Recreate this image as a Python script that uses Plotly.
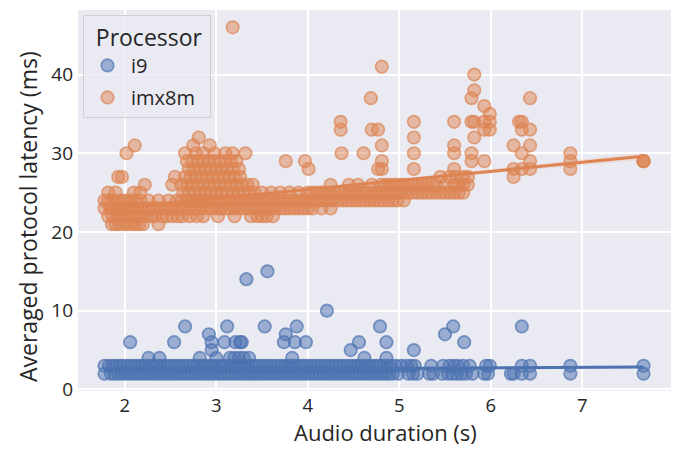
import numpy as np
import plotly.graph_objects as go

# ---------------- data ----------------
# i9: audio durations (s) for each observed averaged latency (ms)
i9_levels = [2, 3, 4, 5, 6, 7, 8, 10, 14, 15]
i9_dur_2 = [1.78, 1.85, 1.89, 1.93, 1.97, 2.01, 2.05, 2.09, 2.13, 2.17, 2.21, 2.25, 2.29, 2.33,
            2.37, 2.41, 2.45, 2.49, 2.53, 2.57, 2.61, 2.65, 2.69, 2.73, 2.77, 2.81, 2.85, 2.89,
            2.93, 2.97, 3.01, 3.05, 3.09, 3.13, 3.17, 3.21, 3.25, 3.29, 3.33, 3.37, 3.41, 3.45,
            3.49, 3.53, 3.57, 3.61, 3.65, 3.69, 3.73, 3.77, 3.81, 3.85, 3.89, 3.93, 3.97, 4.01,
            4.05, 4.09, 4.13, 4.17, 4.21, 4.25, 4.29, 4.33, 4.37, 4.41, 4.45, 4.49, 4.53, 4.57,
            4.61, 4.65, 4.69, 4.73, 4.77, 4.81, 4.85, 4.89, 4.93, 4.99, 5.1, 5.15, 5.2, 5.33,
            5.37, 5.47, 5.53, 5.58, 5.63, 5.68, 5.73, 5.8, 5.93, 5.97, 6.22, 6.25, 6.34, 6.43,
            6.87, 7.67]
i9_dur_3 = [1.78, 1.83, 1.87, 1.91, 1.95, 1.99, 2.03, 2.07, 2.11, 2.15, 2.19, 2.23, 2.27, 2.31,
            2.35, 2.39, 2.43, 2.47, 2.51, 2.55, 2.59, 2.63, 2.67, 2.71, 2.75, 2.79, 2.83, 2.87,
            2.91, 2.95, 2.99, 3.03, 3.07, 3.11, 3.15, 3.19, 3.23, 3.27, 3.31, 3.35, 3.39, 3.43,
            3.47, 3.51, 3.55, 3.59, 3.63, 3.67, 3.71, 3.75, 3.79, 3.83, 3.87, 3.91, 3.95, 3.99,
            4.03, 4.07, 4.11, 4.15, 4.19, 4.23, 4.27, 4.31, 4.35, 4.39, 4.43, 4.47, 4.51, 4.55,
            4.59, 4.63, 4.67, 4.71, 4.75, 4.79, 4.83, 4.87, 4.91, 4.96, 5.02, 5.08, 5.13, 5.17,
            5.35, 5.48, 5.55, 5.6, 5.64, 5.7, 5.77, 5.95, 5.99, 6.34, 6.43, 6.87, 7.67]
i9_dur_4 = [2.26, 2.38, 2.82, 3.0, 3.15, 3.2, 3.25, 3.3, 3.36, 3.83, 4.62, 4.86]
i9_dur_5 = [2.95, 4.47, 5.16]
i9_dur_6 = [2.06, 2.54, 2.95, 3.09, 3.21, 3.26, 3.28, 3.74, 3.86, 3.98, 4.56, 4.86, 5.71]
i9_dur_7 = [2.92, 3.76, 5.5]
i9_dur_8 = [2.66, 3.12, 3.53, 3.88, 4.79, 5.59, 6.34]
i9_dur_10 = [4.21]
i9_dur_14 = [3.33]
i9_dur_15 = [3.56]

# imx8m: audio durations (s) for each observed averaged latency (ms)
imx_levels = [21, 22, 23, 24, 25, 26, 27, 28, 29, 30, 31, 32, 33, 34, 35, 36, 37, 38, 40, 41, 46]
imx_dur_21 = [1.86, 1.9, 1.94, 1.99, 2.03, 2.08, 2.12, 2.16, 2.2, 2.37]
imx_dur_22 = [1.82, 1.87, 1.92, 1.97, 2.01, 2.06, 2.11, 2.15, 2.19, 2.24, 2.29, 2.33, 2.41, 2.46,
              2.52, 2.58, 2.63, 2.71, 2.79, 2.86, 3.02, 3.2, 3.38, 3.45, 3.5, 3.55, 3.62]
imx_dur_23 = [1.78, 1.84, 1.9, 1.95, 2.0, 2.04, 2.09, 2.13, 2.18, 2.23, 2.27, 2.32, 2.36, 2.4,
              2.45, 2.5, 2.55, 2.6, 2.65, 2.7, 2.75, 2.8, 2.85, 2.9, 2.95, 3.0, 3.05, 3.1, 3.15,
              3.2, 3.25, 3.3, 3.35, 3.4, 3.45, 3.5, 3.55, 3.6, 3.65, 3.7, 3.75, 3.8, 3.85, 3.9,
              3.95, 4.0, 4.05, 4.15, 4.25]
imx_dur_24 = [1.78, 1.82, 1.88, 1.93, 1.98, 2.02, 2.07, 2.12, 2.17, 2.26, 2.37, 2.48, 2.57, 2.62,
              2.68, 2.73, 2.78, 2.83, 2.88, 2.93, 2.98, 3.03, 3.08, 3.13, 3.18, 3.23, 3.28, 3.33,
              3.38, 3.43, 3.48, 3.53, 3.58, 3.63, 3.68, 3.73, 3.78, 3.83, 3.88, 3.93, 3.98, 4.03,
              4.08, 4.13, 4.18, 4.23, 4.28, 4.33, 4.38, 4.43, 4.48, 4.53, 4.58, 4.63, 4.68, 4.73,
              4.78, 4.83, 4.88, 4.93, 4.98, 5.05]
imx_dur_25 = [1.82, 1.9, 2.1, 2.17, 2.64, 2.7, 2.76, 2.82, 2.88, 2.94, 3.0, 3.06, 3.12, 3.18,
              3.24, 3.3, 3.36, 3.42, 3.5, 3.6, 3.7, 3.8, 3.9, 4.0, 4.05, 4.1, 4.15, 4.2, 4.25,
              4.3, 4.35, 4.4, 4.45, 4.5, 4.55, 4.6, 4.65, 4.7, 4.75, 4.8, 4.85, 4.9, 4.95, 5.0,
              5.05, 5.1, 5.15, 5.2, 5.25, 5.3, 5.35, 5.4, 5.45, 5.5, 5.55, 5.6, 5.65, 5.7]
imx_dur_26 = [2.22, 2.52, 2.62, 2.68, 2.74, 2.8, 2.86, 2.92, 2.98, 3.04, 3.1, 3.16, 3.22, 3.28,
              3.34, 3.4, 4.25, 4.45, 4.55, 4.7, 4.8, 4.85, 4.9, 4.95, 5.0, 5.05, 5.1, 5.15, 5.2,
              5.25, 5.3, 5.35, 5.4, 5.5, 5.6, 5.65, 5.7, 5.75]
imx_dur_27 = [1.93, 1.97, 2.55, 2.66, 2.72, 2.78, 2.84, 2.9, 2.96, 3.02, 3.08, 3.14, 3.2, 3.26,
              5.45, 5.55, 5.62, 5.7, 5.75, 6.25]
imx_dur_28 = [2.7, 2.76, 2.82, 2.88, 2.94, 3.0, 3.06, 3.12, 3.18, 3.25, 4.01, 4.77, 4.81, 5.16,
              5.6, 6.25, 6.34, 6.43, 6.87]
imx_dur_29 = [2.68, 2.74, 2.8, 2.86, 2.92, 2.98, 3.04, 3.1, 3.16, 3.22, 3.76, 3.97, 4.81, 5.79,
              5.93, 6.43, 6.87, 7.67, 7.67, 7.67]
imx_dur_30 = [2.02, 2.66, 2.78, 2.86, 2.98, 3.1, 3.18, 3.32, 4.37, 4.61, 5.16, 5.6, 5.79, 6.34, 6.87]
imx_dur_31 = [2.11, 2.75, 2.93, 4.81, 5.6, 6.25, 6.43]
imx_dur_32 = [2.81, 5.16, 5.82]
imx_dur_33 = [4.36, 4.7, 4.77, 5.93, 5.99, 6.34, 6.43]
imx_dur_34 = [4.36, 5.16, 5.6, 5.79, 5.82, 5.93, 5.99, 6.31, 6.34]
imx_dur_35 = [5.99]
imx_dur_36 = [5.93]
imx_dur_37 = [4.69, 5.79, 6.43]
imx_dur_38 = [5.82]
imx_dur_40 = [5.82]
imx_dur_41 = [4.81]
imx_dur_46 = [3.18]

# regression lines (linear fit) and 95% CI half-widths
fit_x = [1.78, 7.67]
i9_fit = [2.45, 2.85]
imx_fit = [22.85, 29.63]
ci_x = [1.78, 3.0, 4.5, 6.0, 7.67]
i9_ci_half = [0.12, 0.06, 0.05, 0.08, 0.15]
imx_ci_half = [0.35, 0.2, 0.15, 0.25, 0.45]

series_names = ["i9", "imx8m"]
colors = ["#4C72B0", "#DD8452"]
xticks = [2, 3, 4, 5, 6, 7]
yticks = [0, 10, 20, 30, 40]
x_label = "Audio duration (s)"
y_label = "Averaged protocol latency (ms)"
legend_title = "Processor"

# ---------------- build ----------------
ns = globals()
def collect(prefix, levels):
    xs, ys = [], []
    for lv in levels:
        d = ns[f"{prefix}_dur_{lv}"]
        xs += d
        ys += [lv] * len(d)
    return xs, ys

i9_x, i9_y = collect("i9", i9_levels)
imx_x, imx_y = collect("imx", imx_levels)

def rgba(h, a):
    h = h.lstrip("#")
    r, g, b = int(h[0:2], 16), int(h[2:4], 16), int(h[4:6], 16)
    return f"rgba({r},{g},{b},{a})"

FONT = "Open Sans"
TXT = "#262626"
fig = go.Figure()

for name, col, (px, py), fy, cih in [
    (series_names[0], colors[0], (i9_x, i9_y), i9_fit, i9_ci_half),
    (series_names[1], colors[1], (imx_x, imx_y), imx_fit, imx_ci_half),
]:
    fig.add_trace(go.Scatter(
        x=px, y=py, mode="markers", name=name, showlegend=True, legendgroup=name,
        marker=dict(size=12.5, color=rgba(col, 0.5),
                    line=dict(color=rgba(col, 0.7), width=1.7)),
        hoverinfo="skip"))
    cy = np.interp(ci_x, fit_x, fy)
    up = list(cy + np.array(cih))
    lo = list(cy - np.array(cih))
    fig.add_trace(go.Scatter(
        x=list(ci_x) + list(ci_x)[::-1], y=up + lo[::-1], fill="toself",
        fillcolor=rgba(col, 0.15), line=dict(width=0), mode="lines",
        showlegend=False, hoverinfo="skip", legendgroup=name))
    fig.add_trace(go.Scatter(
        x=fit_x, y=fy, mode="lines", line=dict(color=col, width=3),
        showlegend=False, hoverinfo="skip", legendgroup=name))

L, R, T, B = 78, 5, 10, 58
W, H = 676, 449
pw, ph = W - L - R, H - T - B

fig.update_layout(
    width=W, height=H,
    margin=dict(l=L, r=R, t=T, b=B),
    paper_bgcolor="white", plot_bgcolor="#EAEAF2",
    font=dict(family=FONT, color=TXT),
    showlegend=True,
    legend=dict(
        title=dict(text="\u00a0\u2009" + legend_title + "\u00a0",
                   font=dict(size=23, family=FONT, color=TXT)),
        font=dict(size=20, family=FONT, color=TXT),
        x=5 / pw, y=1 - 5 / ph, xanchor="left", yanchor="top",
        bgcolor="rgba(234,234,242,0.8)", bordercolor="#cfcfd6", borderwidth=1,
        traceorder="grouped", tracegroupgap=3, itemwidth=37,
    ),
    xaxis=dict(
        range=[1.49, 7.97], tickvals=xticks, ticktext=[str(t) for t in xticks],
        showgrid=True, gridcolor="white", gridwidth=1.6, zeroline=False,
        ticks="", ticklabelstandoff=1, tickfont=dict(size=18.5, family=FONT, color=TXT),
        showline=False,
    ),
    yaxis=dict(
        range=[-0.2, 48.2], tickvals=yticks, ticktext=[str(t) for t in yticks],
        showgrid=True, gridcolor="white", gridwidth=1.6, zeroline=False,
        ticks="", ticklabelstandoff=4, tickfont=dict(size=19, family=FONT, color=TXT),
        showline=False,
    ),
    annotations=[
        dict(text=x_label, xref="paper", yref="paper",
             x=(385.5 - L) / pw, y=(H - B - 448.5) / ph, xanchor="center", yanchor="bottom",
             borderpad=0, showarrow=False, font=dict(size=22, family=FONT, color=TXT)),
        dict(text=y_label, xref="paper", yref="paper", textangle=-90,
             x=(28 - L) / pw, y=(H - B - 217) / ph, xanchor="center", yanchor="middle",
             showarrow=False, font=dict(size=23, family=FONT, color=TXT)),
    ],
)

fig.write_html("out.html")
